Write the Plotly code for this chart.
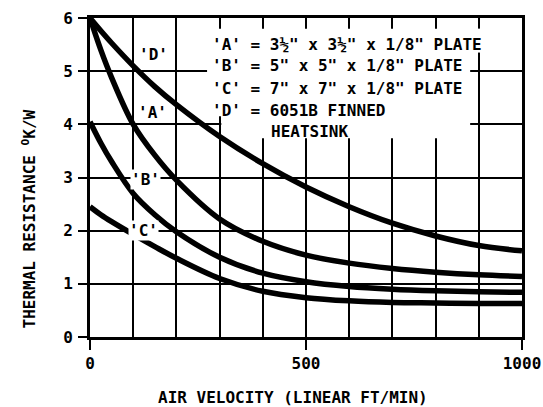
import plotly.graph_objects as go

# Air velocity (linear ft/min) at which each curve is sampled
velocity = [0, 25, 50, 100, 150, 200, 300, 400, 500, 600, 700, 800, 900, 1000]

# Thermal resistance (K/W) for each heatsink
res_a = [6.0, 5.4, 4.88, 4.0, 3.42, 2.95, 2.22, 1.8, 1.54, 1.39, 1.29, 1.22, 1.17, 1.14]
res_b = [4.05, 3.65, 3.3, 2.7, 2.3, 1.98, 1.5, 1.2, 1.04, 0.95, 0.9, 0.87, 0.85, 0.84]
res_c = [2.45, 2.3, 2.17, 1.93, 1.7, 1.48, 1.1, 0.86, 0.74, 0.68, 0.65, 0.64, 0.63, 0.63]
res_d = [6.0, 5.76, 5.53, 5.1, 4.71, 4.37, 3.77, 3.26, 2.82, 2.45, 2.14, 1.9, 1.72, 1.62]

curve_names = ["'A'", "'B'", "'C'", "'D'"]
curve_label_x = [144, 128, 124, 147]
curve_label_y = [4.23, 2.97, 2.0, 5.32]

key_lines = [
    "'A' = 3½\" x 3½\" x 1/8\" PLATE",
    "'B' = 5\" x 5\" x 1/8\" PLATE",
    "'C' = 7\" x 7\" x 1/8\" PLATE",
    "'D' = 6051B FINNED",
]
key_y = [5.5, 5.1, 4.68, 4.26]
key_extra = "HEATSINK"

x_ticks = [0, 500, 1000]
y_ticks = [0, 1, 2, 3, 4, 5, 6]

FONT = "DejaVu Sans Mono"
INK = "black"
TXT = dict(family=FONT, size=16, color=INK, weight="bold")

fig = go.Figure()
for name, ys in zip(curve_names, [res_a, res_b, res_c, res_d]):
    fig.add_trace(go.Scatter(
        x=velocity, y=ys, mode="lines", name=name,
        line=dict(color=INK, width=5.5, shape="spline", smoothing=1.0),
        showlegend=False, hoverinfo="skip",
    ))

# blank area behind the key text: over the grid, under the curves
for x0, x1, y0, y1 in [(271, 880, 4.15, 5.8), (304, 880, 3.74, 4.2), (878, 922, 5.35, 5.8)]:
    fig.add_shape(type="rect", xref="x", yref="y", x0=x0, x1=x1, y0=y0, y1=y1,
                  fillcolor="white", line=dict(width=0), layer="between")

for txt, yy in zip(key_lines, key_y):
    fig.add_annotation(x=278, y=yy, text=txt, showarrow=False, xanchor="left",
                       yanchor="middle", font=TXT)
fig.add_annotation(x=414, y=3.86, text=key_extra, showarrow=False, xanchor="left",
                   yanchor="middle", font=TXT)

for txt, lx, ly in zip(curve_names, curve_label_x, curve_label_y):
    fig.add_annotation(x=lx, y=ly, text=txt, showarrow=False, bgcolor="white",
                       borderpad=0, font=TXT)

fig.add_annotation(xref="paper", yref="paper", x=-0.14, y=0.37, xanchor="center",
                   yanchor="middle", text="THERMAL RESISTANCE <sup>O</sup>K/W",
                   textangle=-90, showarrow=False, font=TXT)
fig.add_annotation(xref="paper", yref="paper", x=0.47, y=-0.19, xanchor="center",
                   yanchor="middle", text="AIR VELOCITY (LINEAR FT/MIN)",
                   showarrow=False, font=TXT)

fig.update_xaxes(
    range=[0, 1000], tickmode="array", tickvals=x_ticks,
    ticks="outside", ticklen=10, tickwidth=2, tickcolor=INK,
    showgrid=False,
    showline=True, linecolor=INK, linewidth=3, mirror=True, zeroline=False,
    tickfont=TXT, ticklabelstandoff=0,
    minor=dict(showgrid=True, tickmode="linear", tick0=0, dtick=100,
               gridcolor=INK, gridwidth=1.7, ticks=""),
)
fig.update_yaxes(
    range=[0, 6], tickmode="array", tickvals=y_ticks,
    ticks="outside", ticklen=9, tickwidth=2, tickcolor=INK,
    showgrid=True, gridcolor=INK, gridwidth=1.7,
    showline=True, linecolor=INK, linewidth=3, mirror=True, zeroline=False,
    tickfont=TXT, ticklabelstandoff=2,
)

fig.update_layout(
    template="none",
    width=543, height=407,
    margin=dict(l=90, r=21, t=18, b=70),
    paper_bgcolor="white", plot_bgcolor="white",
)

fig.write_html("out.html")
